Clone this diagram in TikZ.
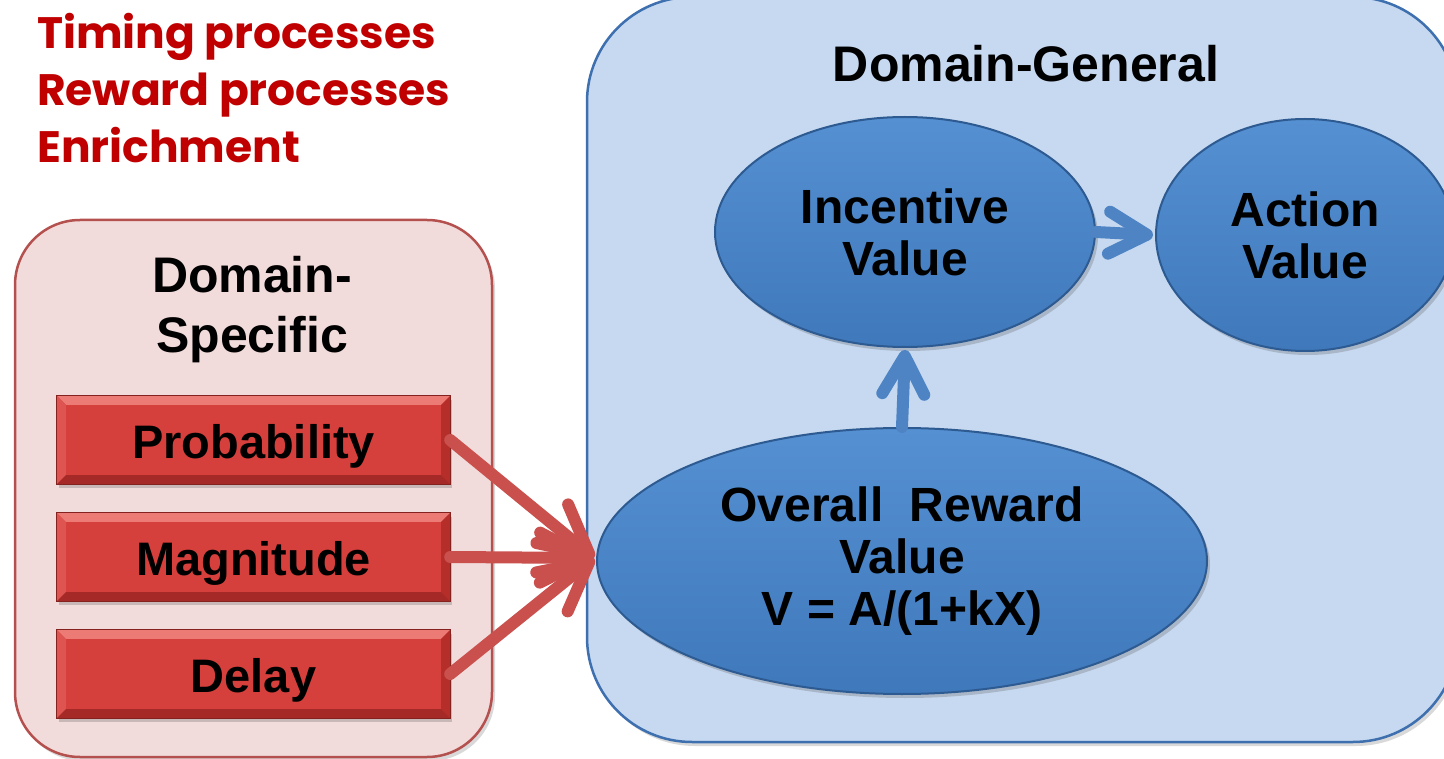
\documentclass[tikz,border=0pt]{standalone}
\usepackage{fontspec}
\setmainfont{Liberation Sans}
\newfontfamily\hfont{Poppins}
\usetikzlibrary{arrows.meta,shadows,calc,shapes.geometric}
\definecolor{hred}{HTML}{C00000}
\definecolor{pinkfill}{HTML}{F2DCDB}
\definecolor{pinkline}{HTML}{B4504E}
\definecolor{bluefill}{HTML}{C6D9F1}
\definecolor{blueline}{HTML}{3E6FAE}
\definecolor{elltop}{HTML}{5590D2}
\definecolor{ellbot}{HTML}{3F79BC}
\definecolor{ellline}{HTML}{2D5A90}
\definecolor{rmain}{HTML}{D6403C}
\definecolor{rtop}{HTML}{EC7B76}
\definecolor{rleft}{HTML}{DD5450}
\definecolor{rright}{HTML}{B52E2A}
\definecolor{rbot}{HTML}{A52A27}
\definecolor{arrred}{HTML}{C9504D}
\definecolor{arrblue}{HTML}{4F84C4}
\newcommand{\bevelbox}[1]{%
  \fill[rtop] (#1.north west) -- (#1.north east) -- ($(#1.north east)+(-9,9)$) -- ($(#1.north west)+(9,9)$) -- cycle;
  \fill[rleft] (#1.north west) -- ($(#1.north west)+(9,9)$) -- ($(#1.south west)+(9,-9)$) -- (#1.south west) -- cycle;
  \fill[rright] (#1.north east) -- ($(#1.north east)+(-9,9)$) -- ($(#1.south east)+(-9,-9)$) -- (#1.south east) -- cycle;
  \fill[rbot] (#1.south west) -- ($(#1.south west)+(9,-9)$) -- ($(#1.south east)+(-9,-9)$) -- (#1.south east) -- cycle;
  \draw[rbot!80!black, line width=1pt] (#1.north west) rectangle (#1.south east);
}
\begin{document}
\begin{tikzpicture}[x=1pt,y=-1pt,
  header/.style={font=\hfont\bfseries\fontsize{44}{57}\selectfont, text=hred, align=left, inner sep=0pt},
  specpanel/.style={draw=pinkline, line width=2.5pt, fill=pinkfill, rounded corners=65pt,
    drop shadow={shadow xshift=3pt, shadow yshift=-4pt, opacity=0.25, fill=black!60}},
  genpanel/.style={draw=blueline, line width=2.5pt, fill=bluefill, rounded corners=105pt,
    drop shadow={shadow xshift=3pt, shadow yshift=-4pt, opacity=0.25, fill=black!60}},
  title/.style={font=\bfseries\fontsize{50}{60}\selectfont, align=center, inner sep=0pt},
  rbox/.style={fill=rmain, minimum width=393pt, minimum height=88pt, inner sep=0pt,
    font=\bfseries\fontsize{47}{52}\selectfont,
    drop shadow={shadow xshift=2pt, shadow yshift=-4pt, opacity=0.3, fill=black!60}},
  ell/.style={ellipse, top color=elltop, bottom color=ellbot, draw=ellline, line width=2pt,
    inner sep=0pt, align=center, font=\bfseries\fontsize{48}{52}\selectfont,
    drop shadow={shadow xshift=3pt, shadow yshift=-4pt, opacity=0.3, fill=black!60}},
  redarrow/.style={draw=arrred, line width=12pt, line cap=round,
    -{Straight Barb[length=48pt,width=50pt,round]}},
  bluearrow/.style={draw=arrblue, line width=12pt, line cap=round,
    -{Straight Barb[length=38pt,width=42pt,round]}},
  ]
\useasboundingbox (0,0) rectangle (1444,759);
% panels
\node[specpanel, minimum width=477pt, minimum height=537pt] (spec) at (253.5,488.5) {};
\node[genpanel, minimum width=871pt, minimum height=745pt] (gen) at (1022.5,369.5) {};
% header
\node[header, anchor=north west] (head) at (37,13) {Timing processes\\Reward processes\\Enrichment};
% titles
\node[title] (spectitle) at (252,310) {Domain-\\Specific};
\node[title, anchor=base] (gentitle) at (1026,82) {Domain-General};
% red boxes
\node[rbox] (prob) at (253.5,440) {};
\bevelbox{prob}
\node[anchor=base, font=\bfseries\fontsize{47}{52}\selectfont] (probt) at (253.5,458) {Probability};
\node[rbox] (mag) at (253.5,557) {};
\bevelbox{mag}
\node[anchor=base, font=\bfseries\fontsize{47}{52}\selectfont] (magt) at (253.5,575) {Magnitude};
\node[rbox] (del) at (253.5,674) {};
\bevelbox{del}
\node[anchor=base, font=\bfseries\fontsize{47}{52}\selectfont] (delt) at (253.5,692) {Delay};
% ellipses
\node[ell, minimum width=380pt, minimum height=230pt] (inc) at (905,232) {Incentive\\Value};
\node[ell, minimum width=298pt, minimum height=232pt] (act) at (1305,235) {Action\\Value};
\node[ell, minimum width=610pt, minimum height=266pt] (ovr) at (902,561) {Overall~~Reward\\Value\\V = A/(1+kX)};
% connectors
\coordinate (tip) at (594,558);
\draw[redarrow] (prob.east) -- (tip);
\draw[redarrow] (mag.east) -- (tip);
\draw[redarrow] (del.east) -- (tip);
\draw[bluearrow] (ovr.north) -- ($(inc.south)+(0,2)$);
\draw[bluearrow] (inc.east) -- ($(act.west)+(-2,0)$);
\end{tikzpicture}
\end{document}
